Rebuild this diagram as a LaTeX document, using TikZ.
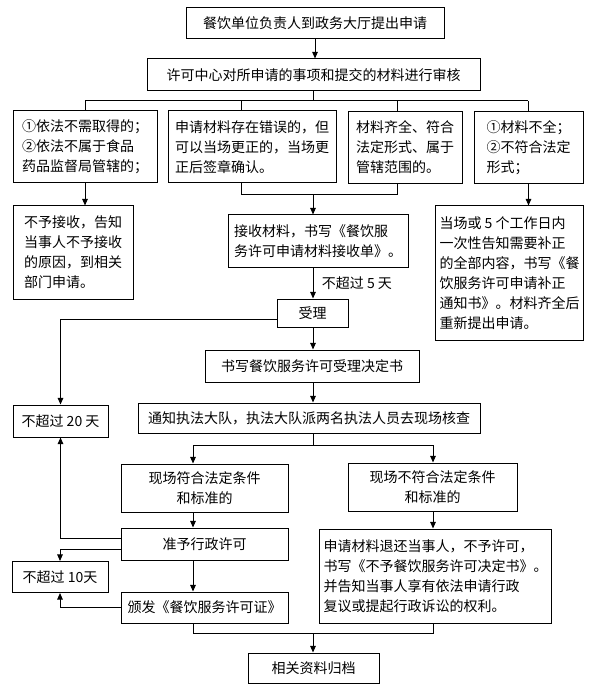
\documentclass[tikz,border=0pt]{standalone}
\usepackage{fontspec}
\setmainfont{Noto Sans CJK SC}
\usetikzlibrary{arrows.meta}

\tikzset{
    box/.style={draw, line width=0.75pt, inner xsep=3pt, inner ysep=1pt, align=left,
        font=\fontsize{10.5pt}{15pt}\selectfont},
    sz/.style 2 args={minimum width=#1*0.75pt, minimum height=#2*0.75pt},
    conn/.style={line width=0.75pt},
    arr/.style={conn, -{Triangle[length=5pt, width=4.2pt]}}
}

\begin{document}
\begin{tikzpicture}[x=0.75pt, y=-0.75pt]
    \useasboundingbox (0,0) rectangle (601,698);

    % Application and review
    \node[box, sz={258}{31}] (apply) at (315,23.5) {餐饮单位负责人到政务大厅提出申请};
    \node[box, sz={333}{32}] (review) at (313.5,75) {许可中心对所申请的事项和提交的材料进行审核};

    % Four review outcomes
    \node[box, sz={144}{72}] (A) at (85,147) {①依法不需取得的；\\②依法不属于食品\\药品监督局管辖的；};
    \node[box, sz={168}{72}] (B) at (252,147) {申请材料存在错误的，但\\可以当场更正的，当场更\\正后签章确认。};
    \node[box, sz={114}{72}] (C) at (405,147.5) {材料齐全、符合\\法定形式、属于\\管辖范围的。};
    \node[box, sz={109}{72}] (F) at (528.5,147.5) {①材料不全；\\②不符合法定\\形式；};

    \node[box, sz={120}{93}] (reject) at (73,252.5) {不予接收，告知\\当事人不予接收\\的原因，到相关\\部门申请。};
    \node[box, sz={147}{134}] (supp) at (509.5,273) {当场或 5 个工作日内\\一次性告知需要补正\\的全部内容，书写《餐\\饮服务许可申请补正\\通知书》。材料齐全后\\重新提出申请。};
    \node[box, sz={180}{52}] (receive) at (318,241) {接收材料，书写《餐饮服\\务许可申请材料接收单》。};

    % Acceptance and inspection
    \node[box, sz={71}{28}] (accept) at (312.5,313) {受理};
    \node[box, sz={95}{32}] (days20) at (60.5,421) {不超过 20 天};
    \node[box, sz={214}{32}] (decide) at (312,366) {书写餐饮服务许可受理决定书};
    \node[box, sz={342}{30}] (inspect) at (309,418) {通知执法大队，执法大队派两名执法人员去现场核查};

    % Site check results
    \node[box, sz={167}{48}, align=center] (ok) at (204.5,488) {现场符合法定条件\\和标准的};
    \node[box, sz={169}{48}, align=center] (notok) at (432.5,487) {现场不符合法定条件\\和标准的};
    \node[box, sz={167}{32}, align=center] (grant) at (204.5,544) {准予行政许可};
    \node[box, sz={96}{31}] (days10) at (60,577) {不超过 10天};
    \node[box, sz={167}{31}, align=center] (issue) at (204.5,607.5) {颁发《餐饮服务许可证》};
    \node[box, sz={227}{94}] (deny) at (435.5,576) {申请材料退还当事人，不予许可，\\书写《不予餐饮服务许可决定书》。\\并告知当事人享有依法申请行政\\复议或提起行政诉讼的权利。};
    \node[box, sz={131}{30}] (archive) at (313.5,668) {相关资料归档};

    % Connectors at the top
    \draw[arr] (apply.south) -- (apply.south |- review.north);
    \coordinate (split1) at (313,101);
    \draw[conn] (review.south) -- (review.south |- split1);
    \foreach \bx/\nm in {85/A, 241/B, 397/C, 528/F} {
        \coordinate (br\nm) at (\bx,101);
        \draw[conn] (br\nm) -- (br\nm |- \nm.north);
    }
    \draw[conn] (brA) -- (brF);
    \draw[arr] (A.south) -- (A.south |- reject.north);
    \draw[arr] (F.south) -- (F.south |- supp.north);

    % B and C join into receive
    \coordinate (mrg1) at (313,195);
    \draw[conn] (brB |- B.south) -- (brB |- mrg1) -- (brC |- mrg1) -- (brC |- C.south);
    \draw[arr] (mrg1) -- (mrg1 |- receive.north);
    \draw[arr] (mrg1 |- receive.south) -- (mrg1 |- accept.north)
        node[midway, right, font=\fontsize{10.5pt}{15pt}\selectfont, xshift=3pt] {不超过 5 天};
    \draw[arr] ([yshift=-4.5pt]accept.west) -| (days20.north);
    \draw[arr] (mrg1 |- accept.south) -- (mrg1 |- decide.north);
    \draw[arr] (mrg1 |- decide.south) -- (mrg1 |- inspect.north);

    % Split to site check results
    \coordinate (split2) at (313,445);
    \coordinate (lx) at (193,445);
    \coordinate (mx) at (433,445);
    \draw[conn] (split2 |- inspect.south) -- (split2);
    \draw[arr] (split2) -- (lx) -- (lx |- ok.north);
    \draw[arr] (split2) -- (mx) -- (mx |- notok.north);
    \draw[arr] (lx |- ok.south) -- (lx |- grant.north);
    \draw[arr] (lx |- grant.south) -- (lx |- issue.north);
    \draw[arr] (mx |- notok.south) -- (mx |- deny.north);

    % Time limits
    \draw[arr] ([yshift=4.5pt]grant.west) -| (days20.south);
    \draw[arr] ([yshift=-3.75pt]grant.west) -| (days10.north);
    \draw[arr] (issue.west) -| (days10.south);

    % Archive
    \coordinate (mrg2) at (313,633);
    \draw[conn] (lx |- issue.south) -- (lx |- mrg2) -- (mx |- mrg2) -- (mx |- deny.south);
    \draw[arr] (mrg2) -- (mrg2 |- archive.north);
\end{tikzpicture}
\end{document}
